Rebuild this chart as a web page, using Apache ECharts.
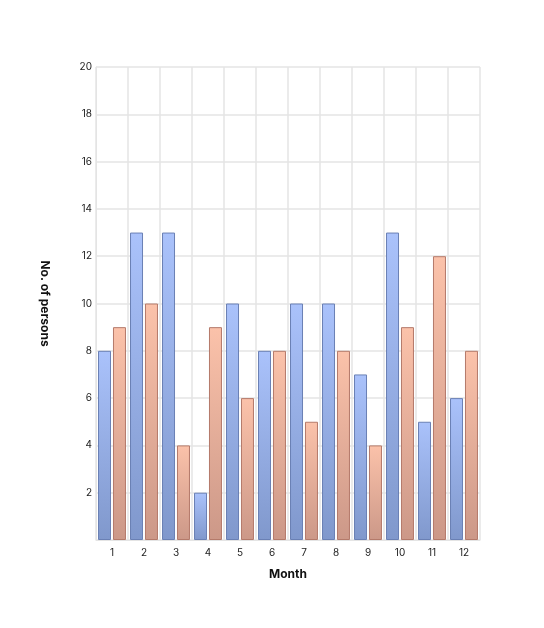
<!DOCTYPE html>
<html><head><meta charset="utf-8">
<script src="https://cdn.jsdelivr.net/npm/echarts@6/dist/echarts.min.js"></script>
<style>html,body{margin:0;padding:0;background:#fff}#c{width:544px;height:628px}</style>
</head><body><div id="c"></div>
<script>
var months = ['1','2','3','4','5','6','7','8','9','10','11','12'];
var seriesA = [8,13,13,2,10,8,10,10,7,13,5,6];
var seriesB = [9,10,4,9,6,8,5,8,4,9,12,8];
var chart = echarts.init(document.getElementById('c'));
function grad(top, bottom){
  return new echarts.graphic.LinearGradient(0,0,0,1,[{offset:0,color:top},{offset:1,color:bottom}]);
}
chart.setOption({
  animation:false,
  textStyle:{fontFamily:'Inter'},
  grid:{left:96,right:64,top:67,bottom:88},
  xAxis:{type:'category',data:months,name:'Month',nameLocation:'middle',nameGap:28,
    nameTextStyle:{fontWeight:'bold',fontSize:12,color:'#111'},
    axisLine:{show:true,lineStyle:{color:'#e4e4e4'}},axisTick:{show:false},
    axisLabel:{color:'#222',fontSize:10,margin:8},
    splitLine:{show:true,lineStyle:{color:'#e4e4e4',width:1.5}}},
  yAxis:{type:'value',min:0,max:20,interval:2,name:'No. of persons',nameLocation:'middle',nameGap:45,nameRotate:-90,
    nameTextStyle:{fontWeight:'bold',fontSize:12,color:'#111'},
    axisLine:{show:true,lineStyle:{color:'#e4e4e4'}},axisTick:{show:false},
    axisLabel:{color:'#222',fontSize:10,margin:4,formatter:function(v){return v===0?'':v;}},
    splitLine:{show:true,lineStyle:{color:'#e4e4e4',width:1.5}}},
  series:[
    {type:'bar',data:seriesA,barWidth:13,barGap:'15%',
      itemStyle:{color:grad('#aac2fb','#8098cc'),borderColor:'#6a80b4',borderWidth:1}},
    {type:'bar',data:seriesB,barWidth:13,
      itemStyle:{color:grad('#fbc2aa','#cc9888'),borderColor:'#b47a6a',borderWidth:1}}
  ]
});
</script></body></html>
